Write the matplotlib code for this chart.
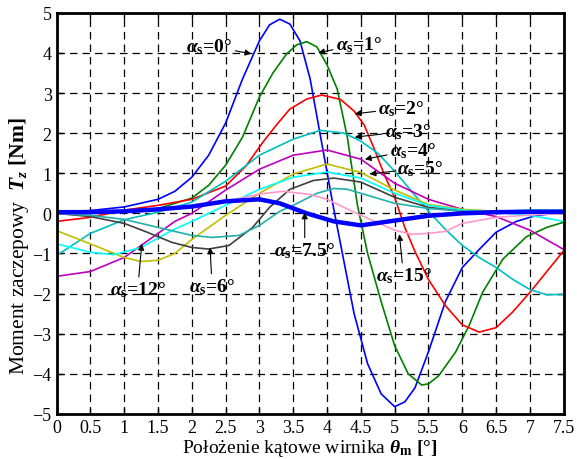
import numpy as np
import matplotlib
matplotlib.use("Agg")
import matplotlib.pyplot as plt

plt.rcParams['font.family'] = 'Liberation Serif'
plt.rcParams['mathtext.fontset'] = 'custom'
plt.rcParams['mathtext.rm'] = 'Liberation Serif'
plt.rcParams['mathtext.it'] = 'Liberation Serif:italic:bold'
plt.rcParams['mathtext.bf'] = 'Liberation Serif:bold'

# curves (theta in deg, torque in Nm)
x_a0 = [0, 0.5, 1.0, 1.5, 1.75, 2.0, 2.25, 2.5, 2.75, 3.0, 3.15, 3.3, 3.45, 3.6, 3.75, 3.9, 4.1, 4.25, 4.4, 4.6, 4.8, 5.0, 5.15, 5.3, 5.5, 5.75, 6.0, 6.25, 6.5, 6.8, 7.1, 7.5]
y_a0 = [0.04, 0.07, 0.16, 0.35, 0.55, 0.9, 1.45, 2.25, 3.35, 4.3, 4.7, 4.84, 4.72, 4.3, 3.35, 1.95, 0.1, -1.2, -2.5, -3.75, -4.5, -4.82, -4.7, -4.35, -3.45, -2.2, -1.35, -0.9, -0.47, -0.2, -0.05, 0.02]

x_a1 = [0, 0.5, 1.0, 1.5, 2.0, 2.25, 2.5, 2.75, 3.0, 3.2, 3.4, 3.55, 3.7, 3.85, 4.0, 4.15, 4.3, 4.45, 4.6, 4.8, 5.0, 5.2, 5.4, 5.5, 5.65, 5.9, 6.1, 6.3, 6.6, 6.95, 7.25, 7.5]
y_a1 = [0.02, 0.02, 0.05, 0.12, 0.38, 0.7, 1.2, 1.9, 2.9, 3.5, 3.97, 4.2, 4.28, 4.15, 3.7, 3.1, 1.9, 0.2, -1.0, -2.2, -3.3, -4.0, -4.28, -4.25, -4.05, -3.46, -2.8, -1.97, -1.14, -0.58, -0.35, -0.22]

x_a2 = [0, 0.5, 1.0, 1.5, 2.0, 2.5, 2.8, 3.05, 3.25, 3.45, 3.7, 3.92, 4.2, 4.4, 4.55, 4.7, 4.85, 5.0, 5.15, 5.3, 5.5, 5.75, 6.0, 6.25, 6.5, 6.75, 7.0, 7.25, 7.5]
y_a2 = [-0.2, -0.1, 0.08, 0.2, 0.35, 0.68, 1.18, 1.77, 2.2, 2.6, 2.85, 2.95, 2.84, 2.55, 2.2, 1.6, 0.95, 0.4, -0.35, -0.95, -1.65, -2.3, -2.78, -2.96, -2.85, -2.45, -1.97, -1.45, -0.93]

x_a3 = [0, 0.5, 1.0, 1.5, 2.0, 2.5, 3.0, 3.5, 3.9, 4.25, 4.5, 4.75, 5.0, 5.25, 5.5, 5.75, 6.0, 6.25, 6.5, 6.75, 7.0, 7.25, 7.5]
y_a3 = [-1.05, -0.5, -0.16, 0.03, 0.28, 0.8, 1.45, 1.85, 2.07, 2.0, 1.8, 1.5, 1.05, 0.55, 0.05, -0.4, -0.8, -1.1, -1.35, -1.65, -1.9, -2.03, -2.02]

x_a4 = [0, 0.5, 1.0, 1.25, 1.5, 1.75, 2.0, 2.5, 3.0, 3.5, 4.0, 4.5, 5.0, 5.5, 6.0, 6.5, 7.0, 7.5]
y_a4 = [-1.57, -1.45, -1.1, -0.8, -0.5, -0.2, 0.0, 0.58, 1.1, 1.45, 1.58, 1.35, 0.75, 0.35, 0.1, -0.08, -0.42, -0.9]

x_a5 = [0, 0.5, 1.0, 1.25, 1.5, 1.75, 2.0, 2.5, 3.0, 3.5, 4.0, 4.5, 5.0, 5.5, 6.0, 6.5, 7.0, 7.5]
y_a5 = [-0.43, -0.76, -1.1, -1.2, -1.17, -1.0, -0.65, -0.05, 0.5, 0.98, 1.23, 1.02, 0.58, 0.22, 0.1, 0.05, 0.03, 0.02]

x_cy = [0, 0.5, 0.85, 1.25, 1.7, 2.0, 2.5, 3.0, 3.5, 4.0, 4.5, 5.0, 5.5, 6.0, 6.5, 7.0, 7.5]
y_cy = [-0.76, -0.97, -1.03, -0.85, -0.43, -0.2, 0.2, 0.6, 0.9, 1.03, 0.88, 0.5, 0.2, 0.08, 0.03, -0.05, -0.2]

x_a6 = [0, 0.5, 1.0, 1.34, 1.7, 2.0, 2.25, 2.55, 2.9, 3.15, 3.45, 3.8, 4.1, 4.5, 5.0, 5.5, 6.0, 6.5, 7.0, 7.5]
y_a6 = [0.0, -0.08, -0.25, -0.47, -0.72, -0.85, -0.89, -0.8, -0.35, 0.15, 0.6, 0.82, 0.88, 0.78, 0.4, 0.15, 0.05, 0.02, 0.0, 0.0]

x_tl = [0, 0.5, 1.0, 1.5, 2.0, 2.3, 2.7, 3.0, 3.3, 3.5, 3.85, 4.1, 4.3, 4.6, 5.0, 5.5, 6.0, 6.5, 7.0, 7.5]
y_tl = [0.0, -0.05, -0.15, -0.35, -0.55, -0.6, -0.55, -0.3, 0.05, 0.2, 0.5, 0.62, 0.6, 0.45, 0.25, 0.12, 0.06, 0.05, 0.08, 0.08]

x_a15 = [0, 0.5, 1.0, 1.5, 2.0, 2.5, 3.0, 3.35, 3.75, 4.0, 4.5, 5.0, 5.25, 5.5, 5.75, 6.0, 6.5, 7.0, 7.5]
y_a15 = [0.0, 0.0, 0.03, 0.07, 0.15, 0.3, 0.48, 0.55, 0.47, 0.35, -0.05, -0.42, -0.52, -0.5, -0.45, -0.25, -0.1, -0.04, 0.0]

x_a75 = [0, 0.5, 1.0, 1.5, 2.0, 2.5, 3.0, 3.3, 3.7, 4.1, 4.5, 5.0, 5.5, 6.0, 6.5, 7.0, 7.5]
y_a75 = [0.03, 0.03, 0.05, 0.1, 0.17, 0.3, 0.35, 0.25, 0.0, -0.2, -0.3, -0.18, -0.06, 0.0, 0.03, 0.04, 0.04]

# label text, text position, arrow tip
labels = ['0', '1', '2', '3', '4', '5', '7.5', '15', '12', '6']
text_xy = [(2.26, 4.17), (4.47, 4.22), (5.1, 2.62), (5.2, 2.05), (5.27, 1.58), (5.38, 1.13),
           (3.67, -0.92), (5.13, -1.55), (1.2, -1.9), (2.3, -1.82)]
tip_xy = [(2.88, 3.98), (3.87, 4.0), (4.41, 2.48), (4.41, 1.9), (4.56, 1.35), (4.63, 0.98),
          (3.67, 0.02), (5.07, -0.52), (1.26, -0.76), (2.27, -0.85)]

fig = plt.figure(figsize=(5.77, 4.6), dpi=100)
ax = fig.add_axes([0.098, 0.098, 0.879, 0.872])

lw = 1.2
ax.plot(x_a0, y_a0, color='#0000ff', lw=lw)
ax.plot(x_a1, y_a1, color='#008000', lw=lw)
ax.plot(x_a2, y_a2, color='#ff0000', lw=lw)
ax.plot(x_a3, y_a3, color='#00bfbf', lw=lw)
ax.plot(x_a4, y_a4, color='#bf00bf', lw=lw)
ax.plot(x_a5, y_a5, color='#bfbf00', lw=lw)
ax.plot(x_cy, y_cy, color='#00ffff', lw=lw)
ax.plot(x_a6, y_a6, color='#404040', lw=lw)
ax.plot(x_tl, y_tl, color='#20b2aa', lw=lw)
ax.plot(x_a15, y_a15, color='#ff99cc', lw=lw)
ax.plot(x_a75, y_a75, color='#0000ff', lw=3.2)

for lab, t, p in zip(labels, text_xy, tip_xy):
    ax.annotate(r'$\alpha_{\mathbf{s}}$=' + lab + '°', xy=p, xytext=t,
                ha='center', va='center', fontsize=14, fontweight='bold',
                arrowprops=dict(arrowstyle='-|>', color='k', lw=0.8,
                                mutation_scale=9, shrinkA=0, shrinkB=0))

ax.set_xlim(0, 7.5)
ax.set_ylim(-5, 5)
xt = np.arange(0, 7.51, 0.5)
ax.set_xticks(xt)
ax.set_xticklabels(['%g' % v for v in xt])
ax.set_yticks(np.arange(-5, 6, 1))
ax.tick_params(direction='in', top=True, right=True, length=4, labelsize=13, width=1)
ax.grid(True, color='k', linestyle=(0, (6, 4)), lw=0.9)
for s in ax.spines.values():
    s.set_linewidth(2)

ax.set_xlabel(r'Położenie kątowe wirnika $\theta_{\mathbf{m}}\ \mathbf{[°]}$', fontsize=14, labelpad=1)
ax.set_ylabel(r'Moment zaczepowy  $T_{z}\ \mathbf{[Nm]}$', fontsize=15.5)
ax.yaxis.set_label_coords(-0.05, 0.42)

fig.savefig('out.png', dpi=100)
